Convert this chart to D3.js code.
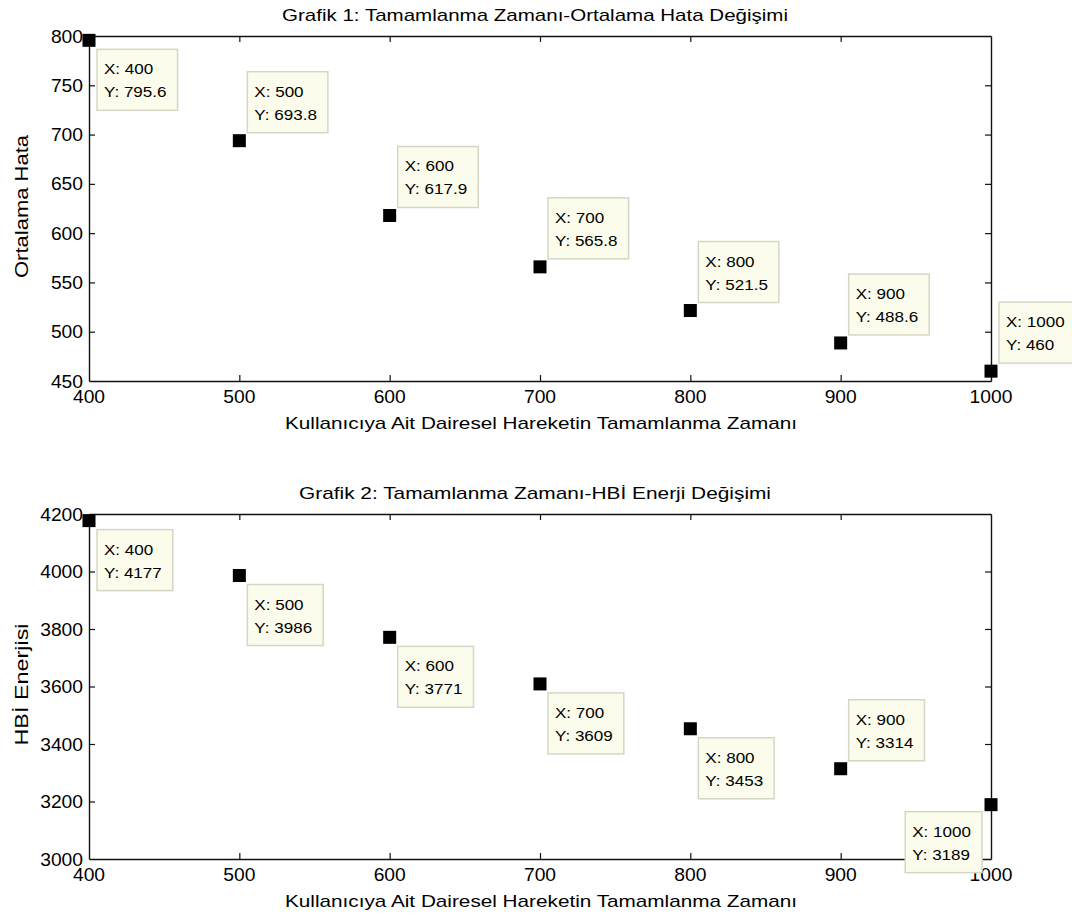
<!DOCTYPE html>
<html>
<head>
<meta charset="utf-8">
<script src="https://cdn.jsdelivr.net/npm/d3@7/dist/d3.min.js"></script>
<style>
  body { margin: 0; background: #fff; }
  text { font-family: "Liberation Sans", Arial, sans-serif; fill: #000; }
</style>
</head>
<body>
<div id="vis"></div>
<script>
// Shared x values (completion time)
var xValues = [400, 500, 600, 700, 800, 900, 1000];
var xTicks = [400, 500, 600, 700, 800, 900, 1000];

// Plot 1: mean error
var errorValues = [795.6, 693.8, 617.9, 565.8, 521.5, 488.6, 460];
var errorLabels = ['795.6', '693.8', '617.9', '565.8', '521.5', '488.6', '460'];
var errorTicks = [450, 500, 550, 600, 650, 700, 750, 800];

// Plot 2: HBI energy
var energyValues = [4177, 3986, 3771, 3609, 3453, 3314, 3189];
var energyLabels = ['4177', '3986', '3771', '3609', '3453', '3314', '3189'];
var energyTicks = [3000, 3200, 3400, 3600, 3800, 4000, 4200];

// where each data tip sits relative to its marker
var errorTipSide = ['br', 'ar', 'ar', 'ar', 'ar', 'ar', 'ar'];
var energyTipSide = ['br', 'br', 'br', 'br', 'br', 'ar', 'bl'];

var width = 1072, height = 922;
var svg = d3.select('#vis').append('svg')
    .attr('width', width)
    .attr('height', height);

var left = 89, right = 991;
var wide = 1.1; // the screenshot font is wider than Arial

// text helper: draws text stretched horizontally
var addText = function (parent, x, y, str, size, anchor) {
    return parent.append('text')
        .attr('transform', 'translate(' + x + ',' + y + ') scale(' + wide + ',1)')
        .attr('text-anchor', anchor || 'start')
        .style('font-size', size + 'px')
        .text(str);
};

var drawPlot = function (cfg) {
    var xScale = d3.scaleLinear().domain([400, 1000]).range([left, right]);
    var yScale = d3.scaleLinear().domain(cfg.yDomain).range([cfg.bottom, cfg.top]);

    var g = svg.append('g');

    // title
    g.append('text')
        .attr('x', 535)
        .attr('y', cfg.top - 15)
        .attr('text-anchor', 'middle')
        .attr('textLength', cfg.titleLen)
        .attr('lengthAdjust', 'spacingAndGlyphs')
        .style('font-size', '17px')
        .text(cfg.title);

    // x axis label
    g.append('text')
        .attr('x', 541)
        .attr('y', cfg.bottom + 48)
        .attr('text-anchor', 'middle')
        .attr('textLength', 512)
        .attr('lengthAdjust', 'spacingAndGlyphs')
        .style('font-size', '17px')
        .text('Kullanıcıya Ait Dairesel Hareketin Tamamlanma Zamanı');

    // y axis label
    g.append('text')
        .attr('transform', 'translate(28,' + ((cfg.top + cfg.bottom) / 2 - 2) + ') rotate(-90)')
        .attr('text-anchor', 'middle')
        .attr('textLength', cfg.yLabelLen)
        .attr('lengthAdjust', 'spacingAndGlyphs')
        .style('font-size', '18px')
        .text(cfg.yLabel);

    // box axes with inward ticks (matlab style), labels drawn separately
    var xAxisB = d3.axisBottom(xScale).tickValues(xTicks).tickSizeInner(-6).tickSizeOuter(0).tickFormat('');
    var xAxisT = d3.axisTop(xScale).tickValues(xTicks).tickSizeInner(-6).tickSizeOuter(0).tickFormat('');
    var yAxisL = d3.axisLeft(yScale).tickValues(cfg.yTicks).tickSizeInner(-6).tickSizeOuter(0).tickFormat('');
    var yAxisR = d3.axisRight(yScale).tickValues(cfg.yTicks).tickSizeInner(-6).tickSizeOuter(0).tickFormat('');

    var axes = [
        g.append('g').attr('transform', 'translate(0,' + cfg.bottom + ')').call(xAxisB),
        g.append('g').attr('transform', 'translate(0,' + cfg.top + ')').call(xAxisT),
        g.append('g').attr('transform', 'translate(' + left + ',0)').call(yAxisL),
        g.append('g').attr('transform', 'translate(' + right + ',0)').call(yAxisR)
    ];
    axes.forEach(function (a) {
        a.select('.domain').attr('stroke', '#111').attr('stroke-width', 1.4);
        a.selectAll('.tick line').attr('stroke', '#111').attr('stroke-width', 1.2);
        a.selectAll('.tick text').remove();
    });
    // the end ticks sit on the frame
    axes[0].selectAll('.tick').filter(function (d) { return d === 400 || d === 1000; }).remove();
    axes[1].selectAll('.tick').filter(function (d) { return d === 400 || d === 1000; }).remove();
    axes[2].selectAll('.tick').filter(function (d, i) { return i === 0 || i === cfg.yTicks.length - 1; }).remove();
    axes[3].selectAll('.tick').filter(function (d, i) { return i === 0 || i === cfg.yTicks.length - 1; }).remove();

    // tick labels
    xTicks.forEach(function (t) {
        addText(g, xScale(t), cfg.bottom + 22, String(t), 17.5, 'middle');
    });
    cfg.yTicks.forEach(function (t) {
        addText(g, left - 6, yScale(t) + 6.5, String(t), 17.5, 'end');
    });

    // markers
    var size = 13;
    g.selectAll('rect.pt').data(cfg.values).enter().append('rect')
        .attr('class', 'pt')
        .attr('x', function (d, i) { return xScale(xValues[i]) - size / 2; })
        .attr('y', function (d) { return yScale(d) - size / 2; })
        .attr('width', size)
        .attr('height', size)
        .attr('fill', '#000');

    // data tips
    cfg.values.forEach(function (d, i) {
        var px = xScale(xValues[i]), py = yScale(d);
        var tip = g.append('g');
        var box = tip.append('rect')
            .attr('fill', '#fcfcec')
            .attr('stroke', '#d6d6c4')
            .attr('stroke-width', 1.5);
        var t1 = addText(tip, 7, 25, 'X: ' + xValues[i], 15.5);
        var t2 = addText(tip, 7, 48, 'Y: ' + cfg.labels[i], 15.5);
        var w = Math.max(t1.node().getComputedTextLength(), t2.node().getComputedTextLength()) * wide + 18;
        var h = 61;
        box.attr('width', w).attr('height', h);
        var side = cfg.sides[i];
        var bx, by;
        if (side === 'br') { bx = px + 8; by = py + 9; }
        else if (side === 'ar') { bx = px + 8; by = py - 8 - h; }
        else { bx = px - 9 - w; by = py + 7; }
        tip.attr('transform', 'translate(' + bx + ',' + by + ')');
    });
};

drawPlot({
    title: 'Grafik 1: Tamamlanma Zamanı-Ortalama Hata Değişimi',
    titleLen: 506,
    yLabel: 'Ortalama Hata',
    yLabelLen: 143,
    yDomain: [450, 800],
    yTicks: errorTicks,
    values: errorValues,
    labels: errorLabels,
    sides: errorTipSide,
    top: 36,
    bottom: 381
});

drawPlot({
    title: 'Grafik 2: Tamamlanma Zamanı-HBİ Enerji Değişimi',
    titleLen: 472,
    yLabel: 'HBİ Enerjisi',
    yLabelLen: 122,
    yDomain: [3000, 4200],
    yTicks: energyTicks,
    values: energyValues,
    labels: energyLabels,
    sides: energyTipSide,
    top: 514,
    bottom: 859
});
</script>
</body>
</html>
